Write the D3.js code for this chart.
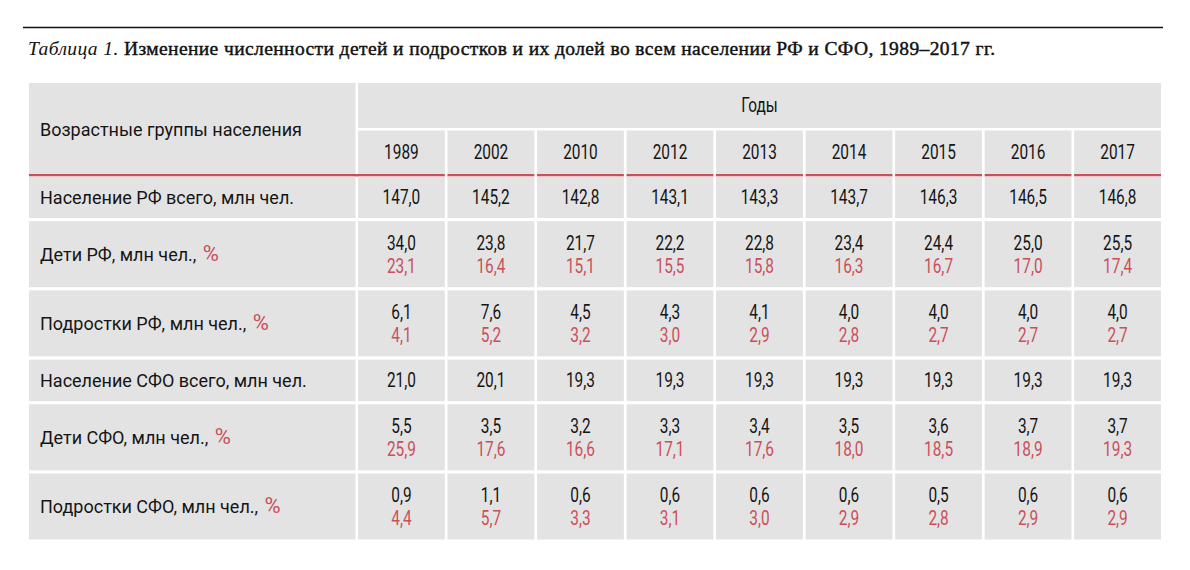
<!DOCTYPE html>
<html><head><meta charset="utf-8">
<script src="https://cdn.jsdelivr.net/npm/d3@7/dist/d3.min.js"></script>
<style>
html,body{margin:0;padding:0;background:#fff;}
svg{display:block;}
</style></head>
<body>
<script>
// ---- data ----
const years = [1989, 2002, 2010, 2012, 2013, 2014, 2015, 2016, 2017];
const rowLabels = [
  "Население РФ всего, млн чел.",
  "Дети РФ, млн чел., ",
  "Подростки РФ, млн чел., ",
  "Население СФО всего, млн чел.",
  "Дети СФО, млн чел., ",
  "Подростки СФО, млн чел., "
];
const popRF          = [147.0, 145.2, 142.8, 143.1, 143.3, 143.7, 146.3, 146.5, 146.8];
const childrenRF     = [34.0, 23.8, 21.7, 22.2, 22.8, 23.4, 24.4, 25.0, 25.5];
const childrenRFPct  = [23.1, 16.4, 15.1, 15.5, 15.8, 16.3, 16.7, 17.0, 17.4];
const teensRF        = [6.1, 7.6, 4.5, 4.3, 4.1, 4.0, 4.0, 4.0, 4.0];
const teensRFPct     = [4.1, 5.2, 3.2, 3.0, 2.9, 2.8, 2.7, 2.7, 2.7];
const popSFO         = [21.0, 20.1, 19.3, 19.3, 19.3, 19.3, 19.3, 19.3, 19.3];
const childrenSFO    = [5.5, 3.5, 3.2, 3.3, 3.4, 3.5, 3.6, 3.7, 3.7];
const childrenSFOPct = [25.9, 17.6, 16.6, 17.1, 17.6, 18.0, 18.5, 18.9, 19.3];
const teensSFO       = [0.9, 1.1, 0.6, 0.6, 0.6, 0.6, 0.5, 0.6, 0.6];
const teensSFOPct    = [4.4, 5.7, 3.3, 3.1, 3.0, 2.9, 2.8, 2.9, 2.9];

const titleItalic = "Таблица 1.";
const titleText = " Изменение численности детей и подростков и их долей во всем населении РФ и СФО, 1989–2017 гг.";
const headerLabel = "Возрастные группы населения";
const headerYears = "Годы";

const rows = [
  {label: rowLabels[0], main: popRF, pct: null},
  {label: rowLabels[1], main: childrenRF, pct: childrenRFPct},
  {label: rowLabels[2], main: teensRF, pct: teensRFPct},
  {label: rowLabels[3], main: popSFO, pct: null},
  {label: rowLabels[4], main: childrenSFO, pct: childrenSFOPct},
  {label: rowLabels[5], main: teensSFO, pct: teensSFOPct}
];

// ---- style ----
const W = 1190, H = 570;
const GRAY = "#e3e3e3", RED = "#c9505b", TXT = "#151515";
const SANS = "Roboto, 'Liberation Sans', sans-serif";
const SERIF = "'Liberation Serif', 'DejaVu Serif', serif";
const fmt = d3.formatLocale({decimal: ",", thousands: " ", grouping: [3], currency: ["", ""]}).format(".1f");

const svg = d3.select("body").append("svg").attr("width", W).attr("height", H);
svg.append("rect").attr("width", W).attr("height", H).attr("fill", "#fff");

// top rule + title
svg.append("line").attr("x1", 23).attr("x2", 1163).attr("y1", 27.5).attr("y2", 27.5)
  .attr("stroke", "#111").attr("stroke-width", 1.4);
const title = svg.append("text").attr("x", 28).attr("y", 55)
  .attr("font-family", SERIF).attr("font-size", 19.5).attr("fill", "#111");
title.append("tspan").attr("font-style", "italic").text(titleItalic);
title.append("tspan").attr("stroke", "#111").attr("stroke-width", 0.45).text(titleText);
title.attr("textLength", 967).attr("lengthAdjust", "spacing");

// scales
const left = 29, firstRight = 355.5, colStart = 358, right = 1161;
const x = d3.scaleBand().domain(years).range([colStart, right]).paddingInner(0.03).paddingOuter(0);

const hTop = 83, hMid = 128, hYears = 130.5, hBottom = 174;
const singleH = 41.5, doubleH = 66, gap = 3.2, bodyTop = 176.5;
let acc = bodyTop;
const rowY = rows.map(r => { const y0 = acc; const h = r.pct ? doubleH : singleH; acc += h + gap; return {y0, h}; });
const y = d3.scaleOrdinal().domain(d3.range(rows.length)).range(rowY.map(d => d.y0));
const yh = d3.scaleOrdinal().domain(d3.range(rows.length)).range(rowY.map(d => d.h));

// header
svg.append("rect").attr("x", left).attr("y", hTop).attr("width", firstRight - left).attr("height", hBottom - hTop).attr("fill", GRAY);
svg.append("rect").attr("x", colStart).attr("y", hTop).attr("width", right - colStart).attr("height", hMid - hTop).attr("fill", GRAY);
svg.selectAll("rect.yh").data(years).join("rect").attr("class", "yh")
  .attr("x", d => x(d)).attr("y", hYears).attr("width", x.bandwidth()).attr("height", hBottom - hYears).attr("fill", GRAY);

// red rule
svg.append("rect").attr("x", left).attr("y", hBottom).attr("width", x(years[0]) + x.bandwidth() - left).attr("height", 2.5).attr("fill", RED);
svg.selectAll("rect.rr").data(years.slice(1)).join("rect").attr("class", "rr")
  .attr("x", d => x(d)).attr("y", hBottom).attr("width", x.bandwidth()).attr("height", 2.5).attr("fill", RED);

const capSans = 0.711;
const labelSize = 18, numSize = 19.5, numScale = 0.79;

svg.append("text").attr("x", 40).attr("y", (hTop + hBottom) / 2 + labelSize * capSans / 2 + 1)
  .attr("font-family", SANS).attr("font-size", labelSize).attr("fill", TXT).text(headerLabel);
svg.append("text").attr("transform", `translate(${(colStart + right) / 2},${(hTop + hMid) / 2 + numSize * capSans / 2}) scale(${numScale},1)`)
  .attr("text-anchor", "middle").attr("font-family", SANS).attr("font-size", numSize).attr("fill", TXT).text(headerYears);
svg.selectAll("text.yr").data(years).join("text").attr("class", "yr")
  .attr("transform", d => `translate(${x(d) + x.bandwidth() / 2},${(hYears + hBottom) / 2 + numSize * capSans / 2}) scale(${numScale},1)`)
  .attr("text-anchor", "middle").attr("font-family", SANS).attr("font-size", numSize).attr("fill", TXT).text(d => d);

// body
rows.forEach((r, i) => {
  const y0 = y(i), h = yh(i), cy = y0 + h / 2;
  svg.append("rect").attr("x", left).attr("y", y0).attr("width", firstRight - left).attr("height", h).attr("fill", GRAY);
  const lt = svg.append("text").attr("x", 40).attr("y", cy + labelSize * capSans / 2)
    .attr("font-family", SANS).attr("font-size", labelSize).attr("fill", TXT);
  lt.append("tspan").text(r.label);
  if (r.pct) lt.append("tspan").attr("fill", RED).attr("font-size", 22).attr("dx", 2).text("%");

  const g = svg.append("g");
  g.selectAll("rect").data(years).join("rect")
    .attr("x", d => x(d)).attr("y", y0).attr("width", x.bandwidth()).attr("height", h).attr("fill", GRAY);
  const off = r.pct ? 11.5 : 0;
  g.selectAll("text.m").data(r.main).join("text").attr("class", "m")
    .attr("transform", (d, j) => `translate(${x(years[j]) + x.bandwidth() / 2},${cy - off + numSize * capSans / 2}) scale(${numScale},1)`)
    .attr("text-anchor", "middle").attr("font-family", SANS).attr("font-size", numSize).attr("fill", TXT).text(d => fmt(d));
  if (r.pct) {
    g.selectAll("text.p").data(r.pct).join("text").attr("class", "p")
      .attr("transform", (d, j) => `translate(${x(years[j]) + x.bandwidth() / 2},${cy + off + numSize * capSans / 2}) scale(${numScale},1)`)
      .attr("text-anchor", "middle").attr("font-family", SANS).attr("font-size", numSize).attr("fill", RED).text(d => fmt(d));
  }
});
</script>
</body></html>
